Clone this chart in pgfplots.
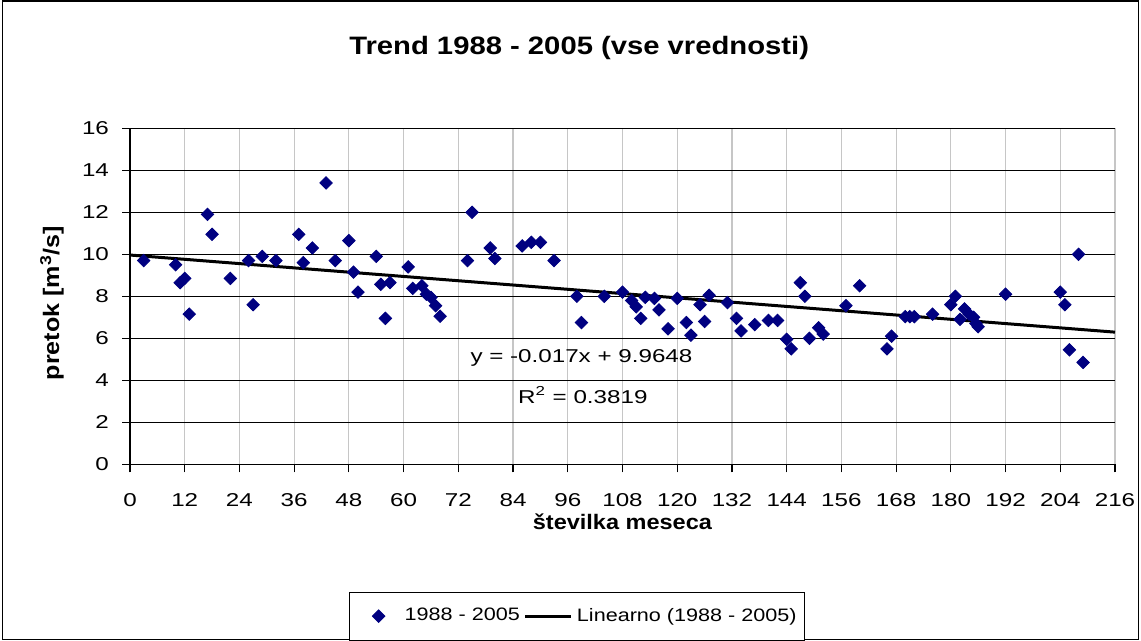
\documentclass[border=0pt]{standalone}
\usepackage{pgfplots}
\pgfplotsset{compat=1.18}
\usepackage{fontspec}
\setmainfont{Liberation Sans}
\newfontfamily\tickfont{Liberation Sans}[FakeStretch=1.3]
\newfontfamily\legfont{Liberation Sans}[FakeStretch=1.2]
\newfontfamily\titlefont{Liberation Sans}[FakeStretch=1.16]
\newfontfamily\labelfont{Liberation Sans}[FakeStretch=1.12]
\definecolor{navy}{RGB}{0,0,128}
\pgfplotstableread{
x y
3 9.7
10 9.5
11 8.65
12 8.85
13 7.15
17 11.9
18 10.95
22 8.85
26 9.7
27 7.6
29 9.9
32 9.7
37 10.95
38 9.6
40 10.3
43 13.4
45 9.7
48 10.65
49 9.15
50 8.2
54 9.9
55 8.57
56 6.95
57 8.65
61 9.4
62 8.38
64 8.5
65 8.1
66 7.95
67 7.55
68 7.05
74 9.7
75 12.0
79 10.3
80 9.8
86 10.4
88 10.57
90 10.57
93 9.7
98 8.0
99 6.75
104 8.0
108 8.2
110 7.8
111 7.5
112 6.95
113 7.95
115 7.9
116 7.35
118 6.45
120 7.9
122 6.75
123 6.15
125 7.6
126 6.8
127 8.05
131 7.7
133 6.95
134 6.35
137 6.65
140 6.85
142 6.85
144 5.95
145 5.5
147 8.65
148 8.0
149 6.0
151 6.5
152 6.2
157 7.55
160 8.5
166 5.5
167 6.1
170 7.03
171 7.03
172 7.03
176 7.15
180 7.6
181 8.0
182 6.9
183 7.4
184 7.15
185 7.0
185.5 6.7
186 6.55
192 8.1
204 8.2
205 7.6
206 5.45
208 10.0
209 4.85
}\datatable
\begin{document}
\begin{tikzpicture}[x=1pt,y=1pt]
\path[use as bounding box] (0,0) rectangle (570.5,320.5);
\draw[line width=0.7pt] (1.2,0.6) rectangle (569.3,320);
\node[font=\titlefont\fontsize{12.6}{14}\selectfont\bfseries] at (289.6,296.5) {Trend 1988 - 2005 (vse vrednosti)};
\node[font=\labelfont\fontsize{11.2}{13}\selectfont\bfseries, rotate=90, anchor=center] at (26,169) {pretok [m\textsuperscript{3}/s]};
\begin{axis}[
  at={(65pt,88.35pt)}, anchor=south west,
  width=492.5pt, height=168pt, scale only axis,
  xmin=0, xmax=216, ymin=0, ymax=16,
  xtick={0,12,...,216}, ytick={0,2,...,16},
  axis lines*=left,
  axis line style={black, line width=0.6pt},
  xmajorgrids, ymajorgrids,
  x grid style={gray!45, line width=0.6pt},
  y grid style={black, line width=0.6pt},
  tick align=outside, major tick length=4pt,
  tick style={black, line width=0.6pt},
  /pgf/number format/assume math mode=true,
  ticklabel style={font=\tickfont\fontsize{9.3}{11}\selectfont},
  xticklabel style={yshift=-7pt},
  yticklabel style={xshift=-3pt},
  xlabel={\textbf{številka meseca}},
  every axis x label/.style={at={(axis description cs:0.5,0)}, anchor=center, yshift=-28.5pt, font=\labelfont\fontsize{10.5}{12}\selectfont},
  legend columns=2,
  legend style={at={(0.454,-0.452)}, anchor=center, draw=black, line width=0.5pt,
    font=\legfont\fontsize{9.0}{11}\selectfont, inner xsep=2pt, inner ysep=6pt,
    /tikz/every even column/.append style={column sep=0pt}},
  legend cell align=left,
]
\addplot[only marks, mark=square*, mark size=2.2pt, mark options={rotate=45, fill=navy, draw=navy},
  legend image code/.code={\path[draw=none] (0pt,0pt) -- (23.5pt,0pt);
    \fill[navy] (12.5pt,3.1pt) -- (15.6pt,0pt) -- (12.5pt,-3.1pt) -- (9.4pt,0pt) -- cycle;}] table[x=x,y=y] {\datatable};
\addlegendentry{1988 - 2005}
\addplot[black, line width=1.5pt, mark=none,
  legend image code/.code={\draw[black, line width=1.5pt] (0pt,0pt) -- (23pt,0pt);}] coordinates {(0,9.9648) (216,6.2928)};
\addlegendentry{Linearno (1988 - 2005)}
\node[font=\tickfont\fontsize{9.3}{11}\selectfont] at (axis cs:99,5.06) {y = -0.017x + 9.9648};
\node[font=\tickfont\fontsize{9.3}{11}\selectfont] at (axis cs:99.3,3.3) {R\textsuperscript{2} = 0.3819};
\end{axis}
\end{tikzpicture}
\end{document}
